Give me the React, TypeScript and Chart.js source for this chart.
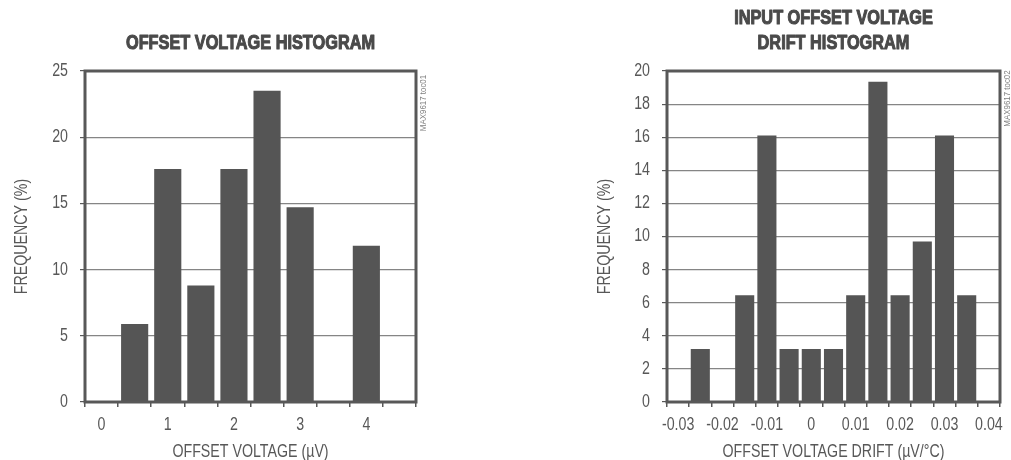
import React, { useEffect, useRef } from 'react';
import { Chart, registerables } from 'chart.js';

Chart.register(...registerables);

// ---- data ----
const leftCategories = ['0', '', '1', '', '2', '', '3', '', '4', ''];
const leftValues = [0, 5.9, 17.6, 8.8, 17.6, 23.5, 14.7, 0, 11.8, 0];
const leftYMax = 25;
const leftYStep = 5;
const leftTitle = 'OFFSET VOLTAGE HISTOGRAM';
const leftXTitle = 'OFFSET VOLTAGE (µV)';
const leftYTitle = 'FREQUENCY (%)';
const leftSideNote = 'MAX9617 toc01';

const rightCategories = ['-0.03', '', '-0.02', '', '-0.01', '', '0', '', '0.01', '', '0.02', '', '0.03', '', '0.04'];
const rightValues = [0, 3.2, 0, 6.45, 16.1, 3.2, 3.2, 3.2, 6.45, 19.35, 6.45, 9.7, 16.1, 6.45, 0];
const rightYMax = 20;
const rightYStep = 2;
const rightTitle = ['INPUT OFFSET VOLTAGE', 'DRIFT HISTOGRAM'];
const rightXTitle = 'OFFSET VOLTAGE DRIFT (µV/°C)';
const rightYTitle = 'FREQUENCY (%)';
const rightSideNote = 'MAX9617 toc02';

const FONT = "'Liberation Sans', Arial, sans-serif";
const BAR = '#555555';
const TEXT = '#585858';
const GRID = '#858585';
const FRAME = '#585858';

type Cfg = {
  width: number;
  height: number;
  categories: string[];
  values: number[];
  yMax: number;
  yStep: number;
  title: string | string[];
  titlePadTop: number;
  titlePadBottom: number;
  xTitle: string;
  yTitle: string;
  yTitlePad: number;
  yAxisWidth: number;
  xAxisHeight: number;
  padRight: number;
  barPct: number;
  note: string;
  noteX: number;
  noteY: number;
};

// condensed look: narrow the glyphs horizontally (like a "narrow" face)
function condenseFactor(font: string): number {
  if (/bold/.test(font)) return 0.815;
  if (/\b9px/.test(font)) return 0.88;
  return 0.79;
}

function Hist({ cfg, left }: { cfg: Cfg; left: number }) {
  const ref = useRef<HTMLCanvasElement | null>(null);
  useEffect(() => {
    if (!ref.current) return;
    const ctx0 = ref.current.getContext('2d') as any;
    if (ctx0 && !ctx0.__condensed) {
      const orig = ctx0.fillText.bind(ctx0);
      const origStroke = ctx0.strokeText.bind(ctx0);
      ctx0.fillText = function (text: string, x: number, y: number, maxWidth?: number) {
        const w = ctx0.measureText(text).width * condenseFactor(ctx0.font);
        const mw = maxWidth === undefined || maxWidth === null ? w : Math.min(maxWidth, w);
        orig(text, x, y, mw);
        if (/bold/.test(ctx0.font)) {
          // heavier weight, like a black condensed face
          const lw = ctx0.lineWidth;
          const ss = ctx0.strokeStyle;
          const lj = ctx0.lineJoin;
          ctx0.lineWidth = 1.1;
          ctx0.lineJoin = 'round';
          ctx0.strokeStyle = ctx0.fillStyle;
          origStroke(text, x, y, mw);
          ctx0.lineWidth = lw;
          ctx0.strokeStyle = ss;
          ctx0.lineJoin = lj;
        }
      };
      ctx0.__condensed = true;
    }
    const framePlugin = {
      id: 'frame',
      afterDatasetsDraw(chart: any) {
        const { ctx, chartArea: a } = chart;
        ctx.save();
        ctx.strokeStyle = FRAME;
        ctx.lineWidth = 3;
        ctx.strokeRect(a.left, a.top, a.right - a.left, a.bottom - a.top);
        ctx.restore();
      },
      afterDraw(chart: any) {
        const { ctx } = chart;
        ctx.save();
        ctx.translate(cfg.noteX, cfg.noteY);
        ctx.rotate(-Math.PI / 2);
        ctx.fillStyle = '#808080';
        ctx.font = `9px ${FONT}`;
        ctx.textAlign = 'center';
        ctx.textBaseline = 'middle';
        ctx.fillText(cfg.note, 0, 0);
        ctx.restore();
      },
    };
    const chart = new Chart(ref.current, {
      type: 'bar',
      data: {
        labels: cfg.categories,
        datasets: [
          {
            data: cfg.values,
            backgroundColor: BAR,
            borderWidth: 0,
            barPercentage: cfg.barPct,
            categoryPercentage: 1,
          },
        ],
      },
      options: {
        responsive: false,
        animation: false,
        devicePixelRatio: 1,
        layout: { padding: { top: 0, left: 0, right: cfg.padRight, bottom: 0 } },
        plugins: {
          legend: { display: false },
          tooltip: { enabled: false },
          title: {
            display: true,
            text: cfg.title,
            fullSize: false,
            color: '#4a4a4a',
            font: { family: FONT, size: 20, weight: 'bold', lineHeight: '25px' as any },
            padding: { top: cfg.titlePadTop, bottom: cfg.titlePadBottom },
          },
        },
        scales: {
          x: {
            type: 'category',
            offset: true,
            grid: {
              offset: true,
              drawOnChartArea: false,
              drawTicks: true,
              tickLength: 5,
              color: FRAME,
              tickColor: FRAME,
              lineWidth: 1.5,
            },
            border: { display: false },
            ticks: {
              autoSkip: false,
              maxRotation: 0,
              minRotation: 0,
              color: TEXT,
              padding: 7,
              font: { family: FONT, size: 18 },
            },
            title: {
              display: true,
              text: cfg.xTitle,
              color: TEXT,
              font: { family: FONT, size: 18, lineHeight: 1 },
              padding: { top: 0, bottom: -1.5 },
            },
            afterFit(scale: any) {
              scale.height = cfg.xAxisHeight;
              scale.paddingLeft = 0;
              scale.paddingRight = 0;
            },
          },
          y: {
            min: 0,
            max: cfg.yMax,
            grid: {
              color: GRID,
              lineWidth: 1.2,
              drawTicks: true,
              tickLength: 5,
              tickColor: FRAME,
            },
            border: { display: false },
            ticks: {
              stepSize: cfg.yStep,
              color: TEXT,
              padding: 12,
              font: { family: FONT, size: 18 },
            },
            title: {
              display: true,
              text: cfg.yTitle,
              color: TEXT,
              font: { family: FONT, size: 18, lineHeight: 1 },
              padding: { top: cfg.yTitlePad, bottom: 0 },
            },
            afterFit(scale: any) {
              scale.width = cfg.yAxisWidth;
              scale.paddingTop = 0;
              scale.paddingBottom = 0;
            },
          },
        },
      },
      plugins: [framePlugin],
    } as any);
    return () => chart.destroy();
  }, []);
  return (
    <canvas
      ref={ref}
      width={cfg.width}
      height={cfg.height}
      style={{ position: 'absolute', left, top: 0, width: cfg.width, height: cfg.height }}
    />
  );
}

const leftCfg: Cfg = {
  width: 440,
  height: 460,
  categories: leftCategories,
  values: leftValues,
  yMax: leftYMax,
  yStep: leftYStep,
  title: leftTitle,
  titlePadTop: 30.5,
  titlePadBottom: 15.5,
  xTitle: leftXTitle,
  yTitle: leftYTitle,
  yTitlePad: 13,
  yAxisWidth: 85,
  xAxisHeight: 58,
  padRight: 24,
  barPct: 0.82,
  note: leftSideNote,
  noteX: 423.5,
  noteY: 103,
};

const rightCfg: Cfg = {
  width: 451,
  height: 460,
  categories: rightCategories,
  values: rightValues,
  yMax: rightYMax,
  yStep: rightYStep,
  title: rightTitle,
  titlePadTop: 5.5,
  titlePadBottom: 15.5,
  xTitle: rightXTitle,
  yTitle: rightYTitle,
  yTitlePad: 36,
  yAxisWidth: 107,
  xAxisHeight: 58,
  padRight: 11,
  barPct: 0.86,
  note: rightSideNote,
  noteX: 447.5,
  noteY: 98.5,
};

export default function App() {
  return (
    <div style={{ position: 'fixed', left: 0, top: 0, width: 1011, height: 460, background: '#ffffff' }}>
      <Hist cfg={leftCfg} left={0} />
      <Hist cfg={rightCfg} left={560} />
    </div>
  );
}
